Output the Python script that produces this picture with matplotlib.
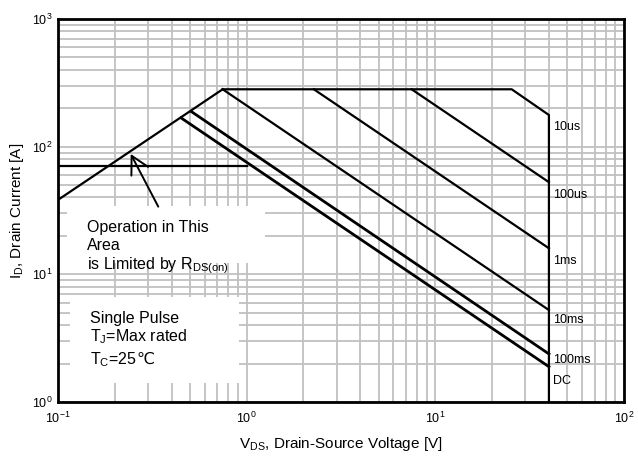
import matplotlib
matplotlib.use("Agg")
import matplotlib.pyplot as plt
from matplotlib.patches import Rectangle
from matplotlib.ticker import FixedLocator, FixedFormatter, LogLocator, NullFormatter

plt.rcParams['font.family'] = ['Liberation Sans', 'DejaVu Sans']
plt.rcParams['mathtext.fontset'] = 'custom'
plt.rcParams['mathtext.rm'] = 'Liberation Sans'
plt.rcParams['mathtext.it'] = 'Liberation Sans'

# RDS(on) limit
rds_v = [0.1, 0.746]
rds_i = [38.3, 281.5]
# 10us envelope: current limit, corner, Vds max
env_v = [0.746, 25.4, 40, 40]
env_i = [281.5, 281.5, 177, 1.0]
# pulse lines (start, end at 40 V)
v_100us = [7.49, 40]
i_100us = [281.5, 52.7]
v_1ms = [2.27, 40]
i_1ms = [281.5, 16.0]
v_10ms = [0.746, 40]
i_10ms = [281.5, 5.25]
v_100ms = [0.51, 40]
i_100ms = [188, 2.38]
v_dc = [0.449, 40]
i_dc = [168, 1.89]
# horizontal line at ~71 A
h_v = [0.1, 1.0]
h_i = [71, 71]

labels = ["10us", "100us", "1ms", "10ms", "100ms", "DC"]
label_i = [142.6, 41.9, 12.7, 4.4, 2.14, 1.46]

fig = plt.figure(figsize=(6.38, 4.61), dpi=100)
ax = fig.add_axes([58 / 638, 1 - 402 / 461, 566 / 638, 383 / 461])
ax.set_xscale('log')
ax.set_yscale('log')
ax.set_xlim(0.1, 100)
ax.set_ylim(1, 1000)

ax.set_axisbelow(True)
ax.xaxis.set_minor_locator(LogLocator(base=10, subs=range(2, 10)))
ax.yaxis.set_minor_locator(LogLocator(base=10, subs=range(2, 10)))
ax.xaxis.set_minor_formatter(NullFormatter())
ax.yaxis.set_minor_formatter(NullFormatter())
ax.grid(which='both', color='#c0c0c0', lw=1.3)

xt = [0.1, 1, 10, 100]
ax.xaxis.set_major_locator(FixedLocator(xt))
ax.xaxis.set_major_formatter(FixedFormatter([r'$\mathregular{10^{-1}}$', r'$\mathregular{10^{0}}$',
                                             r'$\mathregular{10^{1}}$', r'$\mathregular{10^{2}}$']))
yt = [1, 10, 100, 1000]
ax.yaxis.set_major_locator(FixedLocator(yt))
ax.yaxis.set_major_formatter(FixedFormatter([r'$\mathregular{10^{0}}$', r'$\mathregular{10^{1}}$',
                                             r'$\mathregular{10^{2}}$', r'$\mathregular{10^{3}}$']))
ax.tick_params(which='both', length=0, labelsize=9, pad=6)
ax.tick_params(axis='y', pad=4)
for s in ax.spines.values():
    s.set_linewidth(2)

lw = 1.6
ax.plot(rds_v, rds_i, color='k', lw=lw, zorder=3)
ax.plot(env_v, env_i, color='k', lw=lw, zorder=3)
ax.plot(v_100us, i_100us, color='k', lw=lw, zorder=3)
ax.plot(v_1ms, i_1ms, color='k', lw=lw, zorder=3)
ax.plot(v_10ms, i_10ms, color='k', lw=lw, zorder=3)
ax.plot(v_100ms, i_100ms, color='k', lw=2.0, zorder=3)
ax.plot(v_dc, i_dc, color='k', lw=2.0, zorder=3)
ax.plot(h_v, h_i, color='k', lw=lw, zorder=3)

for lab, yi in zip(labels, label_i):
    ax.text(42, yi, lab, fontsize=9, ha='left', va='center', zorder=4)

# white boxes over the grid
ax.add_patch(Rectangle((0.016, 0.363), 0.35, 0.149, transform=ax.transAxes,
                       facecolor='white', edgecolor='none', zorder=2))
ax.add_patch(Rectangle((0.021, 0.049), 0.298, 0.226, transform=ax.transAxes,
                       facecolor='white', edgecolor='none', zorder=2))

fs = 11.5
ax.text(0.0507, 0.443, "Operation in This", transform=ax.transAxes, fontsize=fs, va='baseline', zorder=4)
ax.text(0.0507, 0.397, "Area", transform=ax.transAxes, fontsize=fs, va='baseline', zorder=4)
ax.text(0.0507, 0.347, r"is Limited by R$_\mathregular{DS(on)}$", transform=ax.transAxes,
        fontsize=fs, va='baseline', zorder=4)
ax.text(0.0565, 0.2055, "Single Pulse", transform=ax.transAxes, fontsize=fs, va='baseline', zorder=4)
ax.text(0.0565, 0.159, r"T$_\mathregular{J}$=Max rated", transform=ax.transAxes, fontsize=fs,
        va='baseline', zorder=4)
tc = ax.text(0.0565, 0.0984, r"T$_\mathregular{C}$=25", transform=ax.transAxes, fontsize=fs,
             va='baseline', zorder=4)

ax.annotate('', xy=(0.2428, 87.7), xytext=(0.340, 33.9),
            arrowprops=dict(arrowstyle='->,head_length=0.63,head_width=0.34', color='k', lw=1.4,
                            mutation_scale=20, shrinkA=0, shrinkB=0), zorder=4)

ax.set_xlabel(r"V$_\mathregular{DS}$, Drain-Source Voltage [V]", fontsize=11, labelpad=7)
ax.set_ylabel(r"I$_\mathregular{D}$, Drain Current [A]", fontsize=11, labelpad=4)

# degree-Celsius sign after "T_C=25" (not in Liberation Sans, drawn as plain text)
fig.canvas.draw()
bb = tc.get_window_extent()
base_y = ax.transAxes.transform((0.0565, 0.0984))[1]
fig.text(bb.x1 / fig.bbox.width, base_y / fig.bbox.height, "℃", fontsize=fs,
         va='baseline', zorder=5)

fig.savefig("out.png", dpi=100)
